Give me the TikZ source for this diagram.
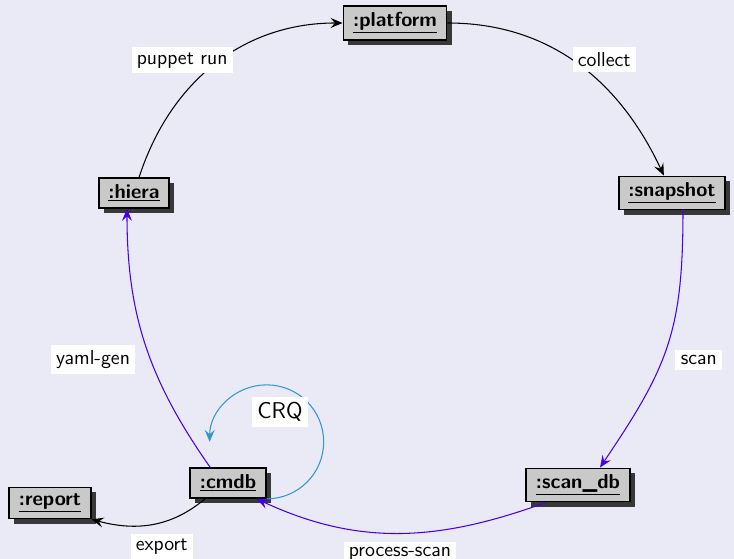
\documentclass[tikz,border=0pt]{standalone}
\usetikzlibrary{arrows.meta,shadows}
\definecolor{bgcol}{RGB}{234,234,246}
\definecolor{flowcol}{RGB}{70,0,235}
\definecolor{crqcol}{RGB}{50,150,205}
\begin{document}
\begin{tikzpicture}[
    obj/.style={draw,line width=1pt,fill=black!21,inner xsep=5.5pt,minimum height=0.6cm,
        font=\sffamily\bfseries\fontsize{11.5}{13}\selectfont,
        drop shadow={shadow xshift=1mm,shadow yshift=-1mm,fill=black!78,opacity=1}},
    msg/.style={fill=white,font=\sffamily\fontsize{11.5}{13}\selectfont,inner sep=3pt},
    link/.style={line width=0.6pt,-{Stealth[length=2.4mm,width=2mm,inset=0.9mm]}}]
    \fill[bgcol] (0,0) rectangle (14.68,11.18);
    \useasboundingbox (0,0) rectangle (14.68,11.18);
    % objects
    \node[obj] (platform) at (7.90,10.72) {\underline{:platform}};
    \node[obj] (snapshot) at (13.44,7.32) {\underline{:snapshot}};
    \node[obj] (scandb) at (11.56,1.48) {\underline{:scan\_db}};
    \node[obj] (cmdb) at (4.56,1.52) {\underline{:cmdb}};
    \node[obj] (hiera) at (2.68,7.32) {\underline{:hiera}};
    \node[obj] (report) at (1.00,1.12) {\underline{:report}};
    % messages
    \draw[link] (hiera) to[out=72,in=180] node[msg,pos=0.4,above left,xshift=7.6mm,yshift=1.6mm] {puppet run} (platform);
    \draw[link] (platform) to[out=0,in=115] node[msg,pos=0.5,above right,xshift=-1.2mm,yshift=-1.6mm] {collect} (snapshot);
    \draw[link,flowcol] ([xshift=2.2mm]snapshot.south) to[out=-90,in=56,looseness=1.15] node[msg,pos=0.5,right,text=black,xshift=1.6mm,yshift=-2.6mm] {scan} ([xshift=4.4mm]scandb.north);
    \draw[link,flowcol] ([xshift=-6.4mm]scandb.south) to[out=-160,in=-25] node[msg,pos=0.5,below=1.6mm,text=black] {process-scan} ([xshift=-2mm]cmdb.south east);
    \draw[link,flowcol] ([xshift=-3.6mm]cmdb.north) to[out=125,in=-90] node[msg,pos=0.5,left,text=black,xshift=-2mm,yshift=-2.8mm] {yaml-gen} ([xshift=-1.4mm]hiera.south);
    \draw[link] ([xshift=-4.6mm]cmdb.south) to[out=-140,in=-15] node[msg,pos=0.5,below,text=black,xshift=2mm,yshift=-1.8mm] {export} (report.south east);
    \draw[link,crqcol] (cmdb.south east) arc[start angle=-90,end angle=180,radius=1.14cm];
    \node[msg,font=\sffamily\fontsize{13}{15}\selectfont] (crq) at (5.60,2.94) {CRQ};
\end{tikzpicture}
\end{document}
